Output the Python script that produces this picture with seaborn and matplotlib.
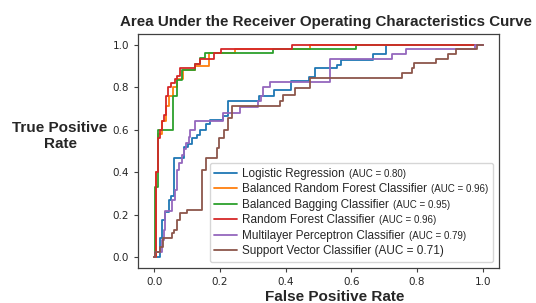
import pandas as pd
import matplotlib
matplotlib.use('Agg')
import matplotlib.pyplot as plt
import seaborn as sns
from matplotlib.offsetbox import TextArea, HPacker

models = ['Logistic Regression', 'Balanced Random Forest Classifier', 'Balanced Bagging Classifier',
          'Random Forest Classifier', 'Multilayer Perceptron Classifier', 'Support Vector Classifier']
auc_scores = [0.80, 0.96, 0.95, 0.96, 0.79, 0.71]
colors = ['#1f77b4', '#ff7f0e', '#2ca02c', '#d62728', '#9467bd', '#8c564b']

# ROC points: false positive rate where the curve steps up, and the tpr after that step
lr_fpr = [0, 0.018, 0.023, 0.033, 0.043, 0.052, 0.061, 0.089, 0.102, 0.115, 0.13, 0.139, 0.158, 0.17,
          0.21, 0.225, 0.32, 0.365, 0.415, 0.47, 0.49, 0.555, 0.57, 0.665, 0.705, 1.0]
lr_tpr = [0, 0.09, 0.175, 0.215, 0.27, 0.29, 0.466, 0.52, 0.533, 0.56, 0.576, 0.60, 0.628, 0.647,
          0.665, 0.733, 0.757, 0.788, 0.83, 0.846, 0.89, 0.906, 0.926, 0.956, 1.0, 1.0]

brf_fpr = [0, 0.004, 0.012, 0.024, 0.036, 0.045, 0.058, 0.07, 0.088, 0.124, 0.165, 0.245, 0.475, 1.0]
brf_tpr = [0, 0.40, 0.58, 0.64, 0.71, 0.76, 0.80, 0.84, 0.88, 0.90, 0.96, 0.98, 1.0, 1.0]

bbc_fpr = [0, 0.002, 0.012, 0.058, 0.07, 0.085, 0.124, 0.139, 0.155, 0.36, 0.615, 1.0]
bbc_tpr = [0, 0.33, 0.60, 0.76, 0.835, 0.88, 0.91, 0.935, 0.96, 0.98, 1.0, 1.0]

rf_fpr = [0, 0.004, 0.012, 0.018, 0.024, 0.03, 0.036, 0.042, 0.052, 0.064, 0.07, 0.079, 0.124, 0.139,
          0.18, 0.203, 0.42, 1.0]
rf_tpr = [0, 0.40, 0.56, 0.60, 0.64, 0.67, 0.76, 0.80, 0.82, 0.84, 0.85, 0.89, 0.91, 0.93,
          0.96, 0.98, 1.0, 1.0]

mlp_fpr = [0, 0.001, 0.023, 0.028, 0.033, 0.053, 0.064, 0.07, 0.074, 0.085, 0.09, 0.097, 0.104, 0.109,
           0.124, 0.21, 0.26, 0.316, 0.324, 0.331, 0.351, 0.535, 0.725, 0.768, 0.976, 1.0]
mlp_tpr = [0, 0.026, 0.08, 0.13, 0.22, 0.27, 0.317, 0.41, 0.443, 0.48, 0.51, 0.537, 0.568, 0.60,
           0.643, 0.68, 0.707, 0.733, 0.757, 0.80, 0.824, 0.933, 0.957, 0.98, 1.0, 1.0]

svc_fpr = [0, 0.001, 0.018, 0.026, 0.054, 0.059, 0.068, 0.079, 0.10, 0.146, 0.158, 0.19, 0.198, 0.212,
           0.225, 0.235, 0.382, 0.392, 0.427, 0.473, 0.755, 0.786, 0.79, 0.857, 0.895, 0.919, 0.983, 1.0]
svc_tpr = [0, 0.026, 0.05, 0.09, 0.113, 0.13, 0.176, 0.207, 0.223, 0.41, 0.466, 0.513, 0.56, 0.60,
           0.655, 0.71, 0.733, 0.764, 0.796, 0.843, 0.867, 0.89, 0.914, 0.933, 0.957, 0.98, 1.0, 1.0]

curves = [(lr_fpr, lr_tpr), (brf_fpr, brf_tpr), (bbc_fpr, bbc_tpr),
          (rf_fpr, rf_tpr), (mlp_fpr, mlp_tpr), (svc_fpr, svc_tpr)]

rows = []
for name, (f, t) in zip(models, curves):
    for i, (x, y) in enumerate(zip(f, t)):
        rows.append({'model': name, 'step': i, 'fpr': x, 'tpr': y})
df = pd.DataFrame(rows)

sns.set_style('ticks')
plt.rcParams['font.family'] = ['DejaVu Sans']
label_font = 'Liberation Sans'

fig, ax = plt.subplots(figsize=(5.36, 3.03), dpi=100)
fig.subplots_adjust(left=0.2575, right=0.931, bottom=0.1155, top=0.888)

for name, c in zip(models, colors):
    sub = df[df['model'] == name]
    sns.lineplot(data=sub, x='fpr', y='tpr', estimator=None, sort=False, drawstyle='steps-post',
                 color=c, lw=1.3, ax=ax, legend=False)

ax.set_xlim(-0.05, 1.05)
ax.set_ylim(-0.05, 1.05)
ax.set_xticks([0, 0.2, 0.4, 0.6, 0.8, 1.0])
ax.set_yticks([0, 0.2, 0.4, 0.6, 0.8, 1.0])
ax.tick_params(labelsize=7.5, length=3, width=0.8, color='0.25', labelcolor='0.15')
for s in ax.spines.values():
    s.set_visible(True)
    s.set_color('0.25')
    s.set_linewidth(0.9)

ax.set_title('Area Under the Receiver Operating Characteristics Curve', fontsize=10.9,
             fontweight='bold', family=label_font, x=0.52)
ax.set_xlabel('False Positive Rate', fontsize=11, fontweight='bold', family=label_font,
              x=0.546, labelpad=2)
ax.set_ylabel('True Positive\nRate', fontsize=11, fontweight='bold', family=label_font, rotation=0)
ax.yaxis.set_label_coords(-0.216, 0.5)

# names at normal size, AUC part in smaller text (last entry all one size)
labels = models[:-1] + [f'{models[-1]} (AUC = {auc_scores[-1]:.2f})']
leg = ax.legend(ax.get_lines()[:6], labels, loc='lower right',
                prop={'family': label_font, 'size': 8.5},
                handlelength=1.9, handletextpad=0.45, labelspacing=0.3)
entry_rows = leg._legend_handle_box.get_children()[0].get_children()
for row, auc in zip(entry_rows[:-1], auc_scores[:-1]):
    ta = TextArea(f'(AUC = {auc:.2f})', textprops={'family': label_font, 'size': 7})
    kids = row.get_children()
    pair = HPacker(children=[kids[1], ta], pad=0, sep=3, align='baseline')
    pair.set_figure(fig)
    kids[1] = pair

plt.savefig('out.png', dpi=100)
